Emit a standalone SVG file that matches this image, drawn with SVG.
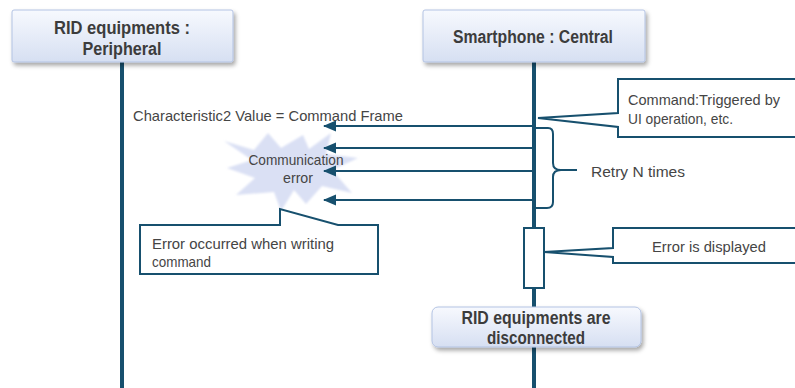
<svg xmlns="http://www.w3.org/2000/svg" width="795" height="388" viewBox="0 0 795 388">
  <defs>
    <linearGradient id="hdrFill" x1="0" y1="0" x2="0" y2="1">
      <stop offset="0" stop-color="#F7F9FE"/>
      <stop offset="1" stop-color="#D6DFF2"/>
    </linearGradient>
    <filter id="shadow" x="-10%" y="-20%" width="125%" height="160%">
      <feDropShadow dx="2" dy="3" stdDeviation="2" flood-color="#000" flood-opacity="0.35"/>
    </filter>
    <filter id="soft" x="-10%" y="-10%" width="120%" height="120%">
      <feGaussianBlur stdDeviation="1.2"/>
    </filter>
    <marker id="arrowhead" markerUnits="userSpaceOnUse" markerWidth="14" markerHeight="12" refX="12" refY="6" orient="auto">
      <path d="M13,6 L0,0.5 L0,11.5 Z" fill="#17506E"/>
    </marker>
    <style>
      .hdr { fill: url(#hdrFill); stroke: #B3C3E3; stroke-width: 1; filter: url(#shadow); }
      .life { stroke: #17506E; stroke-width: 4; fill: none; }
      .msg { stroke: #17506E; stroke-width: 2; fill: none; }
      .note { fill: #FFFFFF; stroke: #17506E; stroke-width: 2; stroke-linejoin: miter; }
      .title { font-family: "Liberation Sans", Arial, sans-serif; font-weight: bold; font-size: 17.5px; fill: #3C3C3C; text-anchor: middle; }
      .lbl { font-family: "Liberation Sans", Arial, sans-serif; font-size: 15px; fill: #454545; }
      .mid { text-anchor: middle; }
    </style>
  </defs>

  <rect width="795" height="388" fill="#FFFFFF"/>

  <!-- lifelines -->
  <g id="lifelines">
    <line class="life" x1="122" y1="62" x2="122" y2="388"/>
    <line class="life" x1="534" y1="62" x2="534" y2="388"/>
  </g>

  <!-- participant: peripheral -->
  <g id="peripheral">
    <rect class="hdr" x="12" y="10" width="221" height="52" rx="2"/>
    <text class="title" x="122" y="34" textLength="136" lengthAdjust="spacingAndGlyphs">RID equipments :</text>
    <text class="title" x="122" y="55" textLength="79" lengthAdjust="spacingAndGlyphs">Peripheral</text>
  </g>

  <!-- participant: central -->
  <g id="central">
    <rect class="hdr" x="423" y="10" width="222" height="52" rx="2"/>
    <text class="title" x="533" y="43" textLength="160" lengthAdjust="spacingAndGlyphs">Smartphone : Central</text>
  </g>

  <!-- communication error burst -->
  <g id="burst">
    <polygon filter="url(#soft)" fill="#DAE0F4" points="224,141 254,150 268,133 281,148 303,135 309,149 331,133 326,154 358,158 332,170 352,193 322,186 306,204 294,190 281,211 274,192 236,195 255,178 227,168 252,160"/>
    <text class="lbl mid" x="296" y="165" textLength="95" lengthAdjust="spacingAndGlyphs">Communication</text>
    <text class="lbl mid" x="298" y="183" textLength="30" lengthAdjust="spacingAndGlyphs">error</text>
  </g>

  <!-- messages -->
  <g id="connectors">
    <line class="msg" x1="533" y1="126" x2="324" y2="126" marker-end="url(#arrowhead)"/>
    <line class="msg" x1="533" y1="148" x2="324" y2="148" marker-end="url(#arrowhead)"/>
    <line class="msg" x1="533" y1="171" x2="324" y2="171" marker-end="url(#arrowhead)"/>
    <line class="msg" x1="533" y1="200" x2="324" y2="200" marker-end="url(#arrowhead)"/>
    <!-- retry brace -->
    <path class="msg" d="M535,128 L548,128 Q553,128 553,134 L553,163 Q553,170 561,170 L577,170 M561,170 Q553,170 553,177 L553,202 Q553,208 547,208 L535,208"/>
  </g>

  <text id="msg-label" class="lbl" x="133" y="121" textLength="270" lengthAdjust="spacingAndGlyphs">Characteristic2 Value = Command Frame</text>

  <g id="retry">
    <text class="lbl" x="591" y="177" textLength="94" lengthAdjust="spacingAndGlyphs">Retry N times</text>
  </g>

  <!-- note: command trigger -->
  <g id="note-command">
    <polygon class="note" points="618,79 800,79 800,137 618,137 618,127 538,118 618,113"/>
    <text class="lbl" x="628" y="105" textLength="152" lengthAdjust="spacingAndGlyphs">Command:Triggered by</text>
    <text class="lbl" x="628" y="124" textLength="105" lengthAdjust="spacingAndGlyphs">UI operation, etc.</text>
  </g>

  <!-- note: write error -->
  <g id="note-write-error">
    <polygon class="note" points="140,225 280,225 280,209 338,225 378,225 378,274 140,274"/>
    <text class="lbl" x="152" y="249" textLength="182" lengthAdjust="spacingAndGlyphs">Error occurred when writing</text>
    <text class="lbl" x="152" y="267" textLength="59" lengthAdjust="spacingAndGlyphs">command</text>
  </g>

  <!-- activation -->
  <g id="activation">
    <rect x="524" y="228" width="20" height="60" fill="#FFFFFF" stroke="#17506E" stroke-width="2"/>
  </g>

  <!-- note: error displayed -->
  <g id="note-error-displayed">
    <polygon class="note" points="613,228 800,228 800,263 613,263 613,257 544,252 613,248"/>
    <text class="lbl mid" x="709" y="252" textLength="114" lengthAdjust="spacingAndGlyphs">Error is displayed</text>
  </g>

  <!-- state: disconnected -->
  <g id="disconnected">
    <rect class="hdr" x="432" y="307" width="209" height="40" rx="6"/>
    <text class="title" x="536" y="324" textLength="149" lengthAdjust="spacingAndGlyphs">RID equipments are</text>
    <text class="title" x="536" y="344" textLength="98" lengthAdjust="spacingAndGlyphs">disconnected</text>
  </g>
</svg>
